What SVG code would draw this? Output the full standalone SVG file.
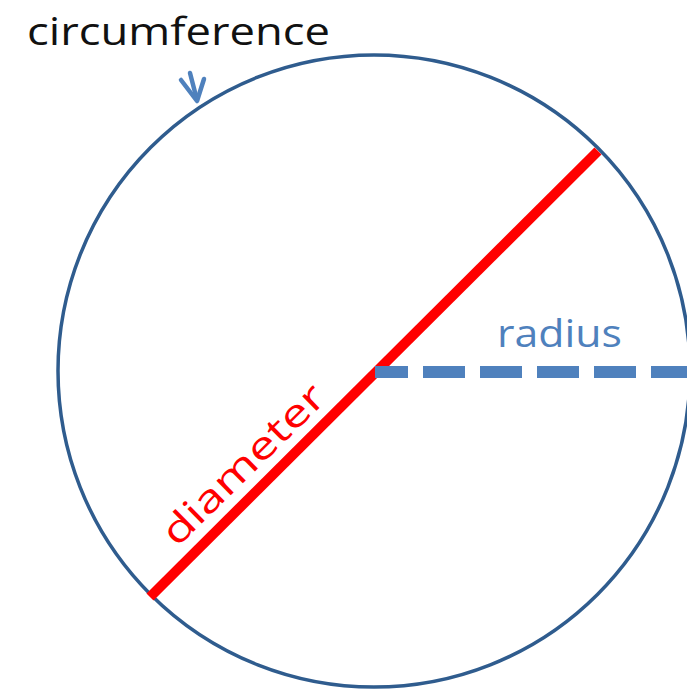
<svg xmlns="http://www.w3.org/2000/svg" width="687" height="691" viewBox="0 0 687 691">
<style>
.lbl{font-family:"Open Sans","Liberation Sans",sans-serif;}
</style>
<rect width="687" height="691" fill="#fff"/>
<g id="circle">
<circle cx="374" cy="371" r="316" fill="none" stroke="#2F5C8E" stroke-width="3.5"/>
</g>
<g id="connectors">
<line id="diameter-line" x1="150" y1="597" x2="598" y2="151" stroke="#FF0000" stroke-width="10"/>
<line id="radius-line" x1="375" y1="372" x2="690" y2="372" stroke="#4F81BD" stroke-width="12" stroke-dasharray="42 15" stroke-dashoffset="9"/>
<g id="circ-arrow" fill="none" stroke="#4F81BD" stroke-width="4.5" stroke-linecap="round" stroke-linejoin="round">
<path d="M190 73 L197 100"/>
<path d="M181 80 L197 101 L204 79"/>
</g>
</g>
<g id="label-circumference">
<text class="lbl" x="27" y="45" font-size="38" fill="#111" textLength="303" lengthAdjust="spacingAndGlyphs">circumference</text>
</g>
<g id="label-radius">
<text class="lbl" x="497" y="347" font-size="38" fill="#4F81BD" textLength="125" lengthAdjust="spacingAndGlyphs">radius</text>
</g>
<g id="label-diameter">
<text class="lbl" x="0" y="0" font-size="38" fill="#FF0000" textLength="212" lengthAdjust="spacingAndGlyphs" transform="translate(177,548) rotate(-44.5)">diameter</text>
</g>
</svg>
